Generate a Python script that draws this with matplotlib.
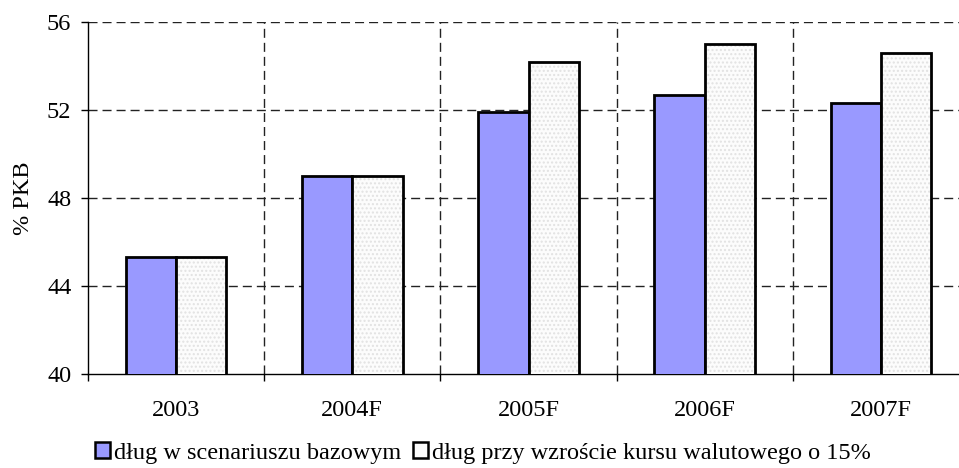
import matplotlib.pyplot as plt
from matplotlib.patches import Patch
import numpy as np

plt.rcParams['font.family'] = ['Liberation Serif', 'DejaVu Serif']

years = ['2003', '2004F', '2005F', '2006F', '2007F']
debt_base = [45.3, 49.0, 51.9, 52.7, 52.3]
debt_fx15 = [45.3, 49.0, 54.2, 55.0, 54.6]
yticks = [40, 44, 48, 52, 56]

labels = ['dług w scenariuszu bazowym',
          'dług przy wzroście kursu walutowego o 15%']

fs = 17.5
fig = plt.figure(figsize=(9.59, 4.68), dpi=100)
# axes runs a bit past the right edge of the figure
ax = fig.add_axes([88 / 959, 1 - 374 / 468, 881 / 959, 352 / 468])

x = np.arange(1, len(years) + 1)
w = 0.285
blue = '#9999ff'
dash = (0, (6.5, 3.6))

ax.bar(x - w / 2, debt_base, w, color=blue, edgecolor='black',
       linewidth=2.0, zorder=3)
# dotted fill for the second series, outline drawn separately
ax.bar(x + w / 2, debt_fx15, w, color='#fcfcfc', edgecolor='#e2e2e2',
       hatch='....', linewidth=0, zorder=3)
ax.bar(x + w / 2, debt_fx15, w, fill=False, edgecolor='black',
       linewidth=2.0, zorder=4)

ax.set_xlim(0.5, 5.5)
ax.set_ylim(40, 56)
ax.set_yticks(yticks)
ax.set_yticklabels([str(v) for v in yticks])
ax.set_xticks(np.arange(0.5, 6.0, 1.0))
ax.set_xticklabels([])
ax.set_xticks(x, minor=True)
ax.set_xticklabels(years, minor=True)
ax.tick_params(axis='x', which='major', direction='out', length=5, width=1)
ax.tick_params(axis='x', which='minor', length=0, pad=19, labelsize=fs)
ax.tick_params(axis='y', direction='out', length=5, width=1, pad=7, labelsize=fs)

for v in yticks[1:]:
    ax.axhline(v, color='#222222', lw=1, ls=dash, zorder=1)
for b in np.arange(1.5, 5.6, 1.0):
    ax.axvline(b, color='#222222', lw=1, ls=dash, zorder=1)

for s in ['top', 'right']:
    ax.spines[s].set_visible(False)
ax.spines['left'].set_linewidth(1)
ax.spines['bottom'].set_linewidth(1)

ax.set_ylabel('% PKB', fontsize=fs, labelpad=9)

handles = [Patch(facecolor=blue, edgecolor='black', linewidth=1.8),
           Patch(facecolor='#fcfcfc', edgecolor='black', linewidth=1.8)]
fig.legend(handles, labels, loc='center', bbox_to_anchor=(483 / 959, 1 - 453 / 468),
           ncol=2, frameon=False, fontsize=fs, handlelength=0.62, handleheight=0.62,
           handletextpad=0.15, columnspacing=0.5, borderpad=0)

fig.savefig('out.png', dpi=100)
